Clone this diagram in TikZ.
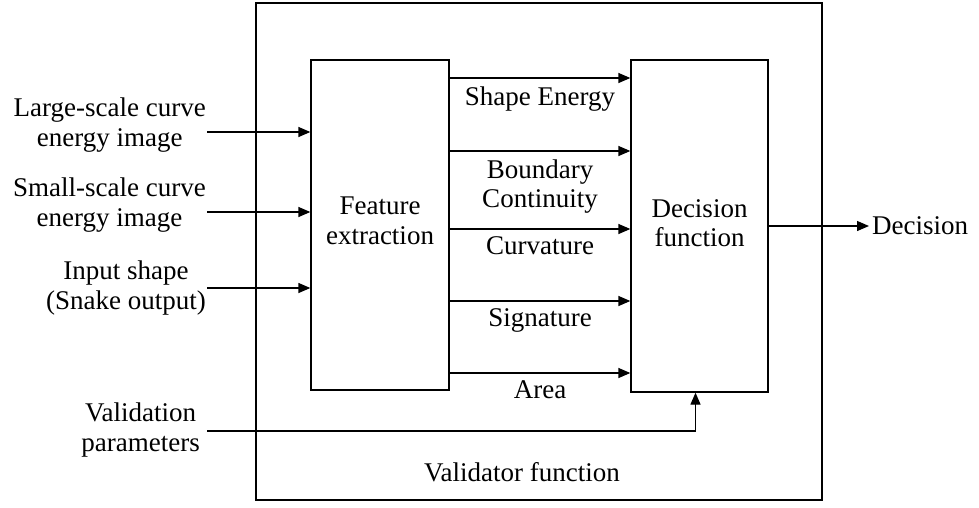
\documentclass[tikz,border=0pt]{standalone}
\usepackage{fontspec}
\setmainfont{Liberation Serif}
\usepackage{tikz}
\usetikzlibrary{arrows.meta}
\usetikzlibrary{calc}

\tikzset{
  blk/.style={draw, line width=1.3pt, inner sep=0pt, align=center},
  arr/.style={line width=1.3pt, -{Triangle[length=12pt,width=10pt]}},
  txt/.style={inner sep=0pt, align=center},
}

\begin{document}
\begin{tikzpicture}[x=1pt,y=-1pt,font=\fontsize{27}{29.5}\selectfont]
\useasboundingbox (0,0) rectangle (979,507);

%validator
\node[blk, minimum width=566pt, minimum height=497pt] (val) at (539,251.5) {};
\node[txt] (valname) at (522,472) {Validator function};

%feature extraction and decision
\node[blk, minimum width=138pt, minimum height=330pt] (feat) at (380,225) {};
\node[txt] (featname) at (380,221) {Feature\\extraction};
\node[blk, minimum width=137pt, minimum height=332pt] (dec) at (699.5,226) {};
\node[txt] (decname) at (699.5,223) {Decision\\function};

%inputs
\node[txt, anchor=east] (lg) at (206,125) {Large-scale curve\\energy image};
\node[txt, anchor=east] (sm) at (206,205) {Small-scale curve\\energy image};
\node[txt, anchor=east] (shp) at (206,288) {Input shape\\(Snake output)};
\node[txt, anchor=east] (vp) at (200,430) {Validation\\parameters};

\coordinate (lgin) at (207,132);
\coordinate (smin) at (207,212);
\coordinate (shpin) at (207,288);
\coordinate (vpin) at (207,431);

\draw[arr] (lgin) -- (lgin -| feat.west);
\draw[arr] (smin) -- (smin -| feat.west);
\draw[arr] (shpin) -- (shpin -| feat.west);
\draw[arr] (vpin) -| ([xshift=-4pt]dec.south);

%features
\draw[arr] (feat.east |- 0,78) -- node[txt, below=8pt] {Shape Energy} (dec.west |- 0,78);
\draw[arr] (feat.east |- 0,151) -- node[txt, below=8pt] {Boundary\\Continuity} (dec.west |- 0,151);
\draw[arr] (feat.east |- 0,229) -- node[txt, below=7pt] {Curvature} (dec.west |- 0,229);
\draw[arr] (feat.east |- 0,301) -- node[txt, below=7pt] {Signature} (dec.west |- 0,301);
\draw[arr] (feat.east |- 0,373) -- node[txt, below=7pt] {Area} (dec.west |- 0,373);

%output
\node[inner sep=3pt, anchor=west] (out) at (869,226) {Decision};
\draw[arr] (dec.east) -- (out.west);

\end{tikzpicture}
\end{document}
